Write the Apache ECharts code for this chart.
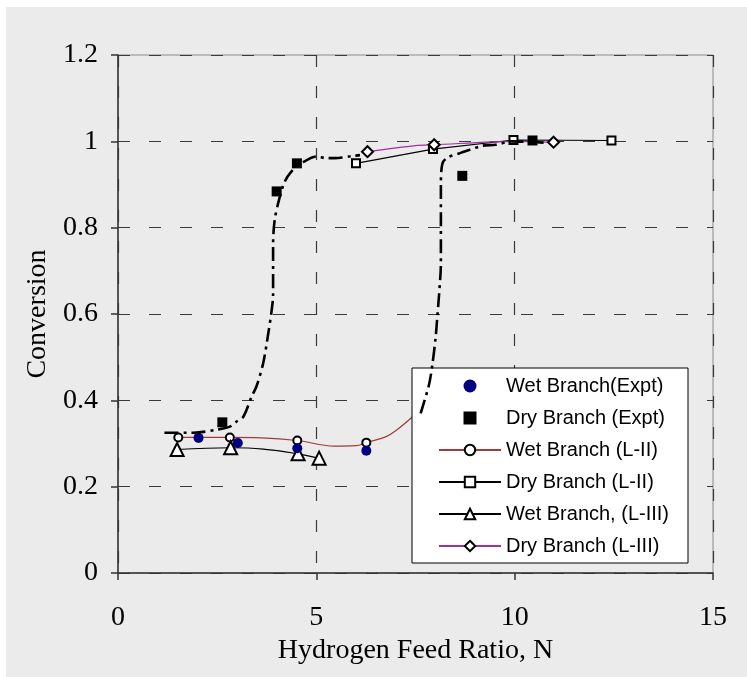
<!DOCTYPE html>
<html>
<head>
<meta charset="utf-8">
<script src="https://cdn.jsdelivr.net/npm/echarts@6/dist/echarts.min.js"></script>
<style>
html,body{margin:0;padding:0;background:#ffffff;width:747px;height:677px;overflow:hidden;}
#chart{position:absolute;left:6px;top:7px;width:741px;height:670px;}
</style>
</head>
<body>
<div id="chart"></div>
<script>
// ---- data ----
const xTicks = [0, 5, 10, 15];
const yTicks = [0, 0.2, 0.4, 0.6, 0.8, 1, 1.2];

const wetExpt = [[2.03, 0.313], [3.02, 0.301], [4.52, 0.289], [6.26, 0.283]];
const dryExpt = [[2.63, 0.349], [4.0, 0.884], [4.51, 0.949], [8.68, 0.920], [10.45, 1.002]];

const wetL2 = [[1.52, 0.314], [2.82, 0.314], [3.6, 0.313], [4.52, 0.307], [5.45, 0.294], [6.0, 0.295], [6.26, 0.302], [6.76, 0.316], [7.05, 0.333], [7.34, 0.355], [7.7, 0.385]];
const wetL2Marks = [0, 1, 3, 6];

const dryL2 = [[6.0, 0.949], [7.94, 0.982], [9.97, 1.003], [12.44, 1.002]];
const dryL2Marks = [0, 1, 2, 3];

const wetL3 = [[1.49, 0.286], [2.84, 0.290], [3.66, 0.287], [4.54, 0.276], [5.07, 0.266]];
const wetL3Marks = [0, 1, 3, 4];

const dryL3 = [[6.29, 0.976], [7.5, 0.990], [7.97, 0.992], [10.0, 1.0], [10.98, 0.998]];
const dryL3Marks = [0, 2, 4];

// dash-dot model curves (hysteresis branches)
const curveA = [[1.17, 0.325], [1.75, 0.325], [1.9, 0.325], [2.5, 0.332], [2.82, 0.339], [2.99, 0.351], [3.16, 0.362], [3.37, 0.409], [3.49, 0.432], [3.66, 0.486], [3.79, 0.556], [3.87, 0.606], [3.91, 0.644], [3.91, 0.687], [3.91, 0.760], [3.95, 0.818], [4.08, 0.872], [4.2, 0.906], [4.37, 0.930], [4.62, 0.949], [5.0, 0.965], [5.25, 0.961], [5.46, 0.961], [5.92, 0.966], [6.1, 0.968]];
const curveB = [[7.63, 0.370], [7.84, 0.436], [7.93, 0.486], [8.01, 0.548], [8.05, 0.594], [8.09, 0.640], [8.14, 0.718], [8.14, 0.795], [8.14, 0.903], [8.18, 0.949], [8.3, 0.962], [8.6, 0.972], [8.85, 0.980], [9.2, 0.990], [9.52, 0.992], [9.93, 1.0], [10.73, 0.997]];

const names = ['Wet Branch(Expt)', 'Dry Branch (Expt)', 'Wet Branch (L-II)', 'Dry Branch (L-II)', 'Wet Branch, (L-III)', 'Dry Branch (L-III)'];

// ---- build ----
function withMarks(points, marks) {
  return points.map((p, i) => marks.indexOf(i) >= 0 ? { value: p } : { value: p, symbol: 'none' });
}
const markerStyle = { color: '#ffffff', borderColor: '#000000', borderWidth: 2 };
const serif = 'Liberation Serif, Times New Roman, serif';
const squarePath = 'path://M0,0L10,0L10,10L0,10Z';

const chart = echarts.init(document.getElementById('chart'), null, { renderer: 'canvas' });
chart.setOption({
  backgroundColor: '#ebebeb',
  animation: false,
  grid: { left: 112, right: 34, top: 48, bottom: 104, show: true, borderColor: '#8a8a8a', borderWidth: 1 },
  xAxis: {
    type: 'value', min: xTicks[0], max: xTicks[xTicks.length - 1], interval: 5,
    name: 'Hydrogen Feed Ratio, N', nameLocation: 'middle', nameGap: 52,
    nameTextStyle: { fontFamily: serif, fontSize: 28, color: '#000' },
    axisLine: { onZero: false, lineStyle: { color: '#333', width: 1.5 } },
    axisTick: { show: true, inside: false, length: 7, lineStyle: { color: '#333', width: 1.5 } },
    axisLabel: { fontFamily: serif, fontSize: 28, color: '#000', margin: 31 },
    splitLine: { show: true, lineStyle: { color: '#3a3a3a', width: 1.2, type: [12, 19] } }
  },
  yAxis: {
    type: 'value', min: yTicks[0], max: yTicks[yTicks.length - 1], interval: 0.2,
    name: 'Conversion', nameLocation: 'middle', nameGap: 60,
    nameTextStyle: { fontFamily: serif, fontSize: 28, color: '#000' },
    axisLine: { onZero: false, lineStyle: { color: '#333', width: 1.5 } },
    axisTick: { show: true, inside: false, length: 7, lineStyle: { color: '#333', width: 1.5 } },
    axisLabel: { fontFamily: serif, fontSize: 28, color: '#000', margin: 20, formatter: v => String(Math.round(v * 10) / 10) },
    splitLine: { show: true, lineStyle: { color: '#3a3a3a', width: 1.2, type: [12, 19] } }
  },
  legend: {
    orient: 'vertical', left: 406, top: 361, data: names,
    backgroundColor: '#ffffff', borderColor: '#000000', borderWidth: 1,
    padding: [8, 19, 7, 26], itemWidth: 62, itemHeight: 13, itemGap: 12, itemTextGap: 6,
    symbolKeepAspect: true,
    textStyle: { fontFamily: 'Liberation Sans, Arial, sans-serif', fontSize: 20, color: '#000' }
  },
  series: [
    { name: names[0], type: 'scatter', data: wetExpt, symbol: 'circle', symbolSize: 10, itemStyle: { color: '#000080', opacity: 1 }, z: 3 },
    { name: names[1], type: 'scatter', data: dryExpt, symbol: squarePath, symbolSize: 10, symbolKeepAspect: true, itemStyle: { color: '#000000', opacity: 1 }, z: 3 },
    { name: names[2], type: 'line', data: withMarks(wetL2, wetL2Marks), smooth: 0.4, symbol: 'circle', symbolSize: 8, showAllSymbol: true,
      lineStyle: { color: '#a33a3a', width: 1.2 }, itemStyle: markerStyle, z: 2 },
    { name: names[3], type: 'line', data: withMarks(dryL2, dryL2Marks), symbol: 'rect', symbolSize: 8, showAllSymbol: true,
      lineStyle: { color: '#000000', width: 1.1 }, itemStyle: markerStyle, z: 2 },
    { name: names[4], type: 'line', data: withMarks(wetL3, wetL3Marks), smooth: 0.4, symbol: 'triangle', symbolSize: 13, showAllSymbol: true,
      lineStyle: { color: '#000000', width: 1.1 }, itemStyle: markerStyle, z: 2 },
    { name: names[5], type: 'line', data: withMarks(dryL3, dryL3Marks), smooth: 0.3, symbol: 'diamond', symbolSize: 11, showAllSymbol: true,
      lineStyle: { color: '#a030a0', width: 1.2 }, itemStyle: markerStyle, z: 2 },
    { name: 'curveA', type: 'line', data: curveA, smooth: 0.3, symbol: 'none',
      lineStyle: { color: '#000000', width: 2.6, type: [14, 5, 3, 5] }, z: 10 },
    { name: 'curveB', type: 'line', data: curveB, smooth: 0.3, symbol: 'none',
      lineStyle: { color: '#000000', width: 2.6, type: [14, 5, 3, 5] }, z: 10 }
  ]
});
</script>
</body>
</html>
